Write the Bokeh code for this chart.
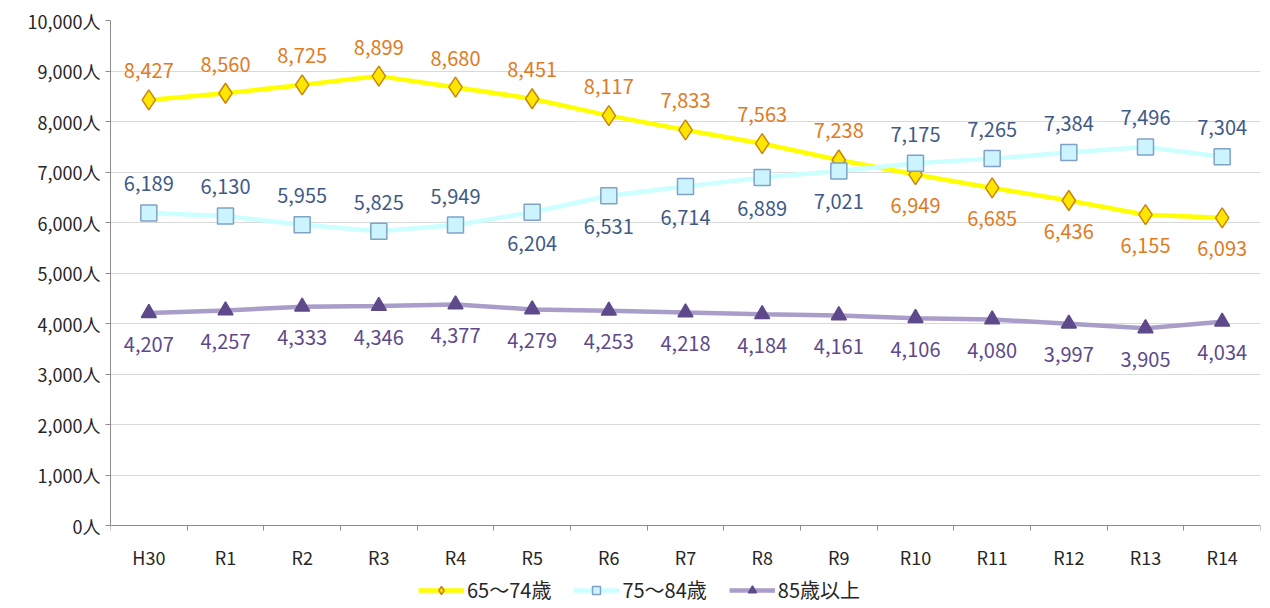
from bokeh.plotting import figure
from bokeh.models import FixedTicker, Legend, LegendItem, ColumnDataSource
from bokeh.core.properties import value
from bokeh.embed import file_html
from bokeh.resources import INLINE

categories = ["H30", "R1", "R2", "R3", "R4", "R5", "R6", "R7", "R8", "R9", "R10", "R11", "R12", "R13", "R14"]
age_65_74 = [8427, 8560, 8725, 8899, 8680, 8451, 8117, 7833, 7563, 7238, 6949, 6685, 6436, 6155, 6093]
age_75_84 = [6189, 6130, 5955, 5825, 5949, 6204, 6531, 6714, 6889, 7021, 7175, 7265, 7384, 7496, 7304]
age_85_up = [4207, 4257, 4333, 4346, 4377, 4279, 4253, 4218, 4184, 4161, 4106, 4080, 3997, 3905, 4034]
series_names = ["65～74歳", "75～84歳", "85歳以上"]
y_ticks = list(range(0, 10001, 1000))

# label placement (1 = above, -1 = below)
pos_65 = [1, 1, 1, 1, 1, 1, 1, 1, 1, 1, -1, -1, -1, -1, -1]
pos_75 = [1, 1, 1, 1, 1, -1, -1, -1, -1, -1, 1, 1, 1, 1, 1]
pos_85 = [-1] * 15

FONT = "Noto Sans CJK JP"
xs = list(range(len(categories)))

p = figure(width=1262, height=604, output_backend="svg", toolbar_location=None,
           x_range=(-0.5, len(categories) - 0.5), y_range=(-1564, 10000),
           min_border_left=110, min_border_right=2, min_border_top=20, min_border_bottom=0)
p.outline_line_color = None
p.background_fill_color = "white"
p.border_fill_color = "white"

p.xgrid.visible = False
p.ygrid.grid_line_color = "#D9D9D9"
p.ygrid.grid_line_width = 1

p.yaxis.ticker = FixedTicker(ticks=y_ticks)
p.yaxis.bounds = (0, 10000)
p.yaxis.major_label_overrides = {t: f"{t:,}人" for t in y_ticks}
p.yaxis.minor_tick_line_color = None
p.yaxis.major_tick_in = 0
p.yaxis.major_tick_out = 5
p.yaxis.axis_line_color = "#8C8C8C"
p.yaxis.major_tick_line_color = "#8C8C8C"
p.yaxis.major_label_text_font = FONT
p.yaxis.major_label_text_font_size = "18px"
p.yaxis.major_label_text_color = "#262626"
p.yaxis.major_label_standoff = 5

p.xaxis.fixed_location = 0
p.xaxis.ticker = FixedTicker(ticks=xs, minor_ticks=[i - 0.5 for i in range(len(categories) + 1)])
p.xaxis.major_label_overrides = {i: c for i, c in enumerate(categories)}
p.xaxis.major_tick_in = 0
p.xaxis.major_tick_out = 0
p.xaxis.minor_tick_in = 0
p.xaxis.minor_tick_out = 5
p.xaxis.minor_tick_line_color = "#8C8C8C"
p.xaxis.axis_line_color = "#8C8C8C"
p.xaxis.major_label_text_font = FONT
p.xaxis.major_label_text_font_size = "18px"
p.xaxis.major_label_text_color = "#262626"
p.xaxis.major_label_standoff = 13

styles = [
    dict(data=age_65_74, pos=pos_65, line="#FFFF00", marker="diamond", fill="#FFE600",
         mline="#C8860A", msize=20, label="#E07B22"),
    dict(data=age_75_84, pos=pos_75, line="#CCFFFF", marker="square", fill="#CCF4FF",
         mline="#7FA2C6", msize=16, label="#3F5A86"),
    dict(data=age_85_up, pos=pos_85, line="#A99DC9", marker="triangle", fill="#5E4A8A",
         mline="#5E4A8A", msize=15, label="#5E4A8A"),
]

items = []
for name, s in zip(series_names, styles):
    src = ColumnDataSource(dict(x=xs, y=s["data"],
                                t=[f"{v:,}" for v in s["data"]],
                                dy=[-29 if d > 0 else 31 for d in s["pos"]]))
    ln = p.line("x", "y", source=src, line_color=s["line"], line_width=4.5)
    mk = p.scatter("x", "y", source=src, marker=s["marker"], size=s["msize"],
                   fill_color=s["fill"], line_color=s["mline"], line_width=1.5)
    p.text("x", "y", text="t", source=src, y_offset="dy", text_align="center",
           text_baseline="middle", text_font=value(FONT), text_font_size="20px",
           text_color=s["label"])
    items.append(LegendItem(label=name, renderers=[ln, mk]))

legend = Legend(items=items, orientation="horizontal", location=(308, 0),
                label_text_font=FONT, label_text_font_size="20px", label_text_color="#262626",
                glyph_width=46, glyph_height=20, spacing=22, label_standoff=3,
                background_fill_alpha=0, border_line_color=None, padding=0, margin=0)
p.add_layout(legend, "center")

open("out.html", "w").write(file_html(p, INLINE))
